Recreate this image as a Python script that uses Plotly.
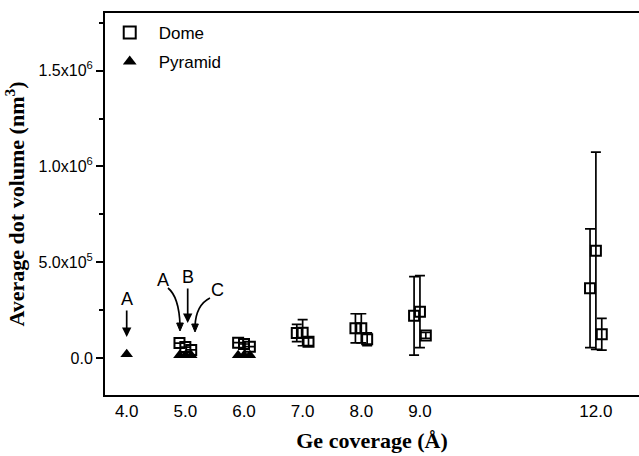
import plotly.graph_objects as go

# ---- data ----
dome_x = [4.9, 5.0, 5.1, 5.9, 6.0, 6.1, 6.9, 7.0, 7.1, 7.9, 8.0, 8.1, 8.9, 9.0, 9.1, 11.9, 12.0, 12.1]
dome_y = [7.8e4, 5.7e4, 4.2e4, 8.0e4, 7.3e4, 5.9e4, 1.30e5, 1.32e5, 8.5e4,
          1.55e5, 1.55e5, 9.8e4, 2.20e5, 2.42e5, 1.18e5, 3.64e5, 5.60e5, 1.24e5]
dome_err = [0, 0, 0, 0, 0, 0, 4.5e4, 6.8e4, 2.0e4,
            7.6e4, 7.6e4, 3.3e4, 2.05e5, 1.88e5, 1.5e4, 3.1e5, 5.15e5, 8.3e4]

pyr_x = [4.0, 4.9, 5.0, 5.1, 5.9, 6.0, 6.1]
pyr_y = [2.0e4, 1.5e4, 1.5e4, 1.5e4, 1.5e4, 1.5e4, 1.5e4]

x_ticks = [4, 5, 6, 7, 8, 9, 12]
x_ticktext = ["4.0", "5.0", "6.0", "7.0", "8.0", "9.0", "12.0"]
y_ticks = [0, 5e5, 1e6, 1.5e6]
y_ticktext = ["0.0", "5.0x10<sup>5</sup>", "1.0x10<sup>6</sup>", "1.5x10<sup>6</sup>"]

fig = go.Figure()
fig.add_trace(go.Scatter(
    x=dome_x, y=dome_y, mode="markers", name="Dome", legendgroup="d",
    marker=dict(symbol="square-open", size=10, color="black", line=dict(width=2, color="black")),
    error_y=dict(type="data", array=dome_err, color="black", thickness=1.7, width=5),
))
fig.add_trace(go.Scatter(
    x=pyr_x, y=pyr_y, mode="markers", name="Pyramid", legendgroup="p",
    marker=dict(symbol="triangle-up", size=11, color="black"),
))

ann_font = dict(family="Liberation Sans, Arial", size=18, color="black")
# straight labelled arrows
fig.add_annotation(x=4.0, y=1.1e5, ax=0, ay=-38, text="A", xref="x", yref="y",
                   showarrow=True, arrowhead=2, arrowsize=1.1, arrowwidth=1.7,
                   arrowcolor="black", font=ann_font)
fig.add_annotation(x=5.04, y=1.83e5, ax=0, ay=-46, text="B", xref="x", yref="y",
                   showarrow=True, arrowhead=2, arrowsize=1.1, arrowwidth=1.7,
                   arrowcolor="black", font=ann_font)
fig.add_annotation(x=4.619, y=4.07e5, text="A", showarrow=False, font=ann_font)
fig.add_annotation(x=5.54, y=3.55e5, text="C", showarrow=False, font=ann_font)

# curved arrow shafts and heads
fig.add_shape(type="path", xref="x", yref="y",
              path="M 4.704 365300 Q 4.892 318400 4.909 172000",
              line=dict(color="black", width=1.7))
fig.add_shape(type="path", xref="x", yref="y",
              path="M 4.909 140900 L 4.852 182700 L 4.966 182700 Z",
              line=dict(color="black", width=1), fillcolor="black")
fig.add_shape(type="path", xref="x", yref="y",
              path="M 5.42 313100 Q 5.181 276600 5.165 167000",
              line=dict(color="black", width=1.7))
fig.add_shape(type="path", xref="x", yref="y",
              path="M 5.165 135700 L 5.108 177400 L 5.222 177400 Z",
              line=dict(color="black", width=1), fillcolor="black")

tick_font = dict(family="Liberation Sans, Arial", size=16, color="black")
title_font = dict(family="Liberation Serif, Times New Roman", size=22, color="black")

fig.update_layout(
    width=639, height=456,
    margin=dict(l=105, r=0, t=13, b=61),
    paper_bgcolor="white", plot_bgcolor="white",
    showlegend=True,
    legend=dict(x=-0.008, y=0.995, xanchor="left", yanchor="top",
                font=dict(family="Liberation Sans, Arial", size=17, color="black"),
                bgcolor="rgba(0,0,0,0)", tracegroupgap=4, itemwidth=48,
                itemsizing="constant"),
)
fig.update_xaxes(
    range=[3.630, 12.735], tickmode="array", tickvals=x_ticks, ticktext=x_ticktext,
    showgrid=False, zeroline=False, showline=True, linecolor="black", linewidth=2,
    mirror=True, ticks="", tickfont=dict(family="Liberation Sans, Arial", size=17, color="black"),
    title=dict(text="<b>Ge coverage (Å)</b>", font=title_font, standoff=12),
)
fig.update_yaxes(
    range=[-1.931e5, 1.8006e6], tickmode="array", tickvals=y_ticks, ticktext=y_ticktext,
    showgrid=False, zeroline=False, showline=True, linecolor="black", linewidth=2,
    ticks="outside", ticklen=7, tickwidth=1.5, tickcolor="black", tickfont=tick_font,
    minor=dict(tickvals=[2.5e5, 7.5e5, 1.25e6, 1.75e6], ticks="outside", ticklen=4,
               tickwidth=1.5, tickcolor="black", showgrid=False),
    title=dict(text="<b>Average dot volume (nm<sup>3</sup>)</b>", font=title_font, standoff=8),
)

fig.write_html("out.html")
